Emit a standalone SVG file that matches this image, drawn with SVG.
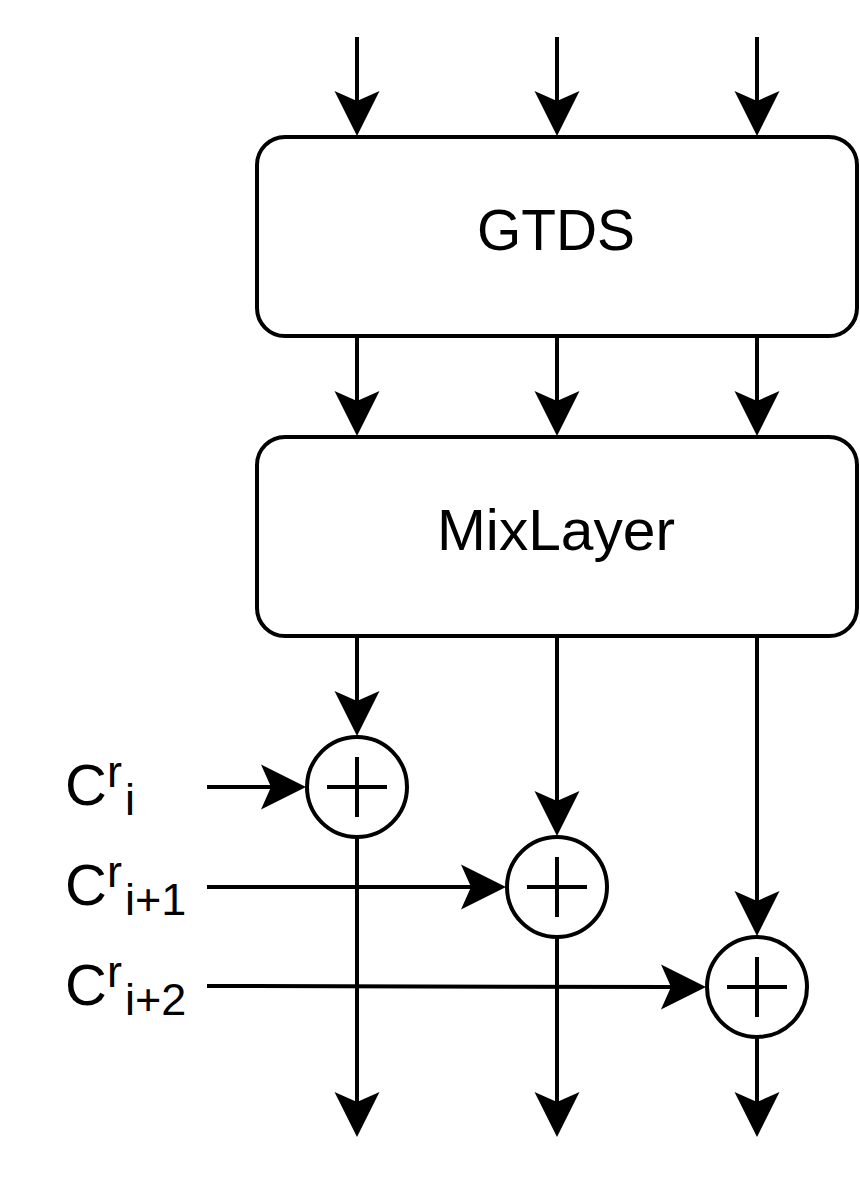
<svg xmlns="http://www.w3.org/2000/svg" width="860" height="1180" viewBox="0 0 860 1180">
<style>
.box{fill:#fff;stroke:#000;stroke-width:4}
.lbl{font-family:"Liberation Sans",Arial,sans-serif;font-size:58px;fill:#000;text-anchor:middle}
.in{font-family:"Liberation Sans",Arial,sans-serif;font-size:58px;fill:#000}
.sm{font-size:45px}
.c{fill:none;stroke:#000;stroke-width:4}
</style>
<defs>
<marker id="arr" markerUnits="userSpaceOnUse" viewBox="-12 -24 48 48" markerWidth="48" markerHeight="48" refX="0" refY="0" orient="auto" overflow="visible">
<path d="M35,0 L-10,-22.5 L0,0 L-10,22.5 Z" fill="#000"/>
</marker>
</defs>
<rect x="0" y="0" width="860" height="1180" fill="#fff"/>
<g id="gtds">
<rect class="box" x="257" y="137" width="600" height="199" rx="28"/>
<text class="lbl" x="556" y="250" textLength="158" lengthAdjust="spacingAndGlyphs">GTDS</text>
</g>
<g id="mixlayer">
<rect class="box" x="257" y="437" width="600" height="199" rx="28"/>
<text class="lbl" x="556" y="550" textLength="238" lengthAdjust="spacingAndGlyphs">MixLayer</text>
</g>
<g id="add1">
<circle class="box" cx="357" cy="787" r="50"/>
<path class="c" d="M327,787 H387 M357,757 V817"/>
</g>
<g id="add2">
<circle class="box" cx="557" cy="887" r="50"/>
<path class="c" d="M527,887 H587 M557,857 V917"/>
</g>
<g id="add3">
<circle class="box" cx="757" cy="987" r="50"/>
<path class="c" d="M727,987 H787 M757,957 V1017"/>
</g>
<g id="label1">
<text class="in" x="65" y="805">C<tspan class="sm" dy="-18">r</tspan><tspan class="sm" dx="3" dy="28">i</tspan></text>
</g>
<g id="label2">
<text class="in" x="65" y="905">C<tspan class="sm" dy="-18">r</tspan><tspan class="sm" dx="3" dy="28">i+1</tspan></text>
</g>
<g id="label3">
<text class="in" x="65" y="1005">C<tspan class="sm" dy="-18">r</tspan><tspan class="sm" dx="3" dy="28">i+2</tspan></text>
</g>
<g id="connectors">
<path class="c" marker-end="url(#arr)" d="M357,37 V101"/>
<path class="c" marker-end="url(#arr)" d="M557,37 V101"/>
<path class="c" marker-end="url(#arr)" d="M757,37 V101"/>
<path class="c" marker-end="url(#arr)" d="M357,336 V401"/>
<path class="c" marker-end="url(#arr)" d="M557,336 V401"/>
<path class="c" marker-end="url(#arr)" d="M757,336 V401"/>
<path class="c" marker-end="url(#arr)" d="M357,636 V701"/>
<path class="c" marker-end="url(#arr)" d="M557,636 V801"/>
<path class="c" marker-end="url(#arr)" d="M757,636 V901"/>
<path class="c" marker-end="url(#arr)" d="M357,837 V1102"/>
<path class="c" marker-end="url(#arr)" d="M557,937 V1102"/>
<path class="c" marker-end="url(#arr)" d="M757,1037 V1102"/>
<path class="c" marker-end="url(#arr)" d="M207,787 H271"/>
<path class="c" marker-end="url(#arr)" d="M207,887 H471"/>
<path class="c" marker-end="url(#arr)" d="M207,986 L671,987"/>
</g>
</svg>
